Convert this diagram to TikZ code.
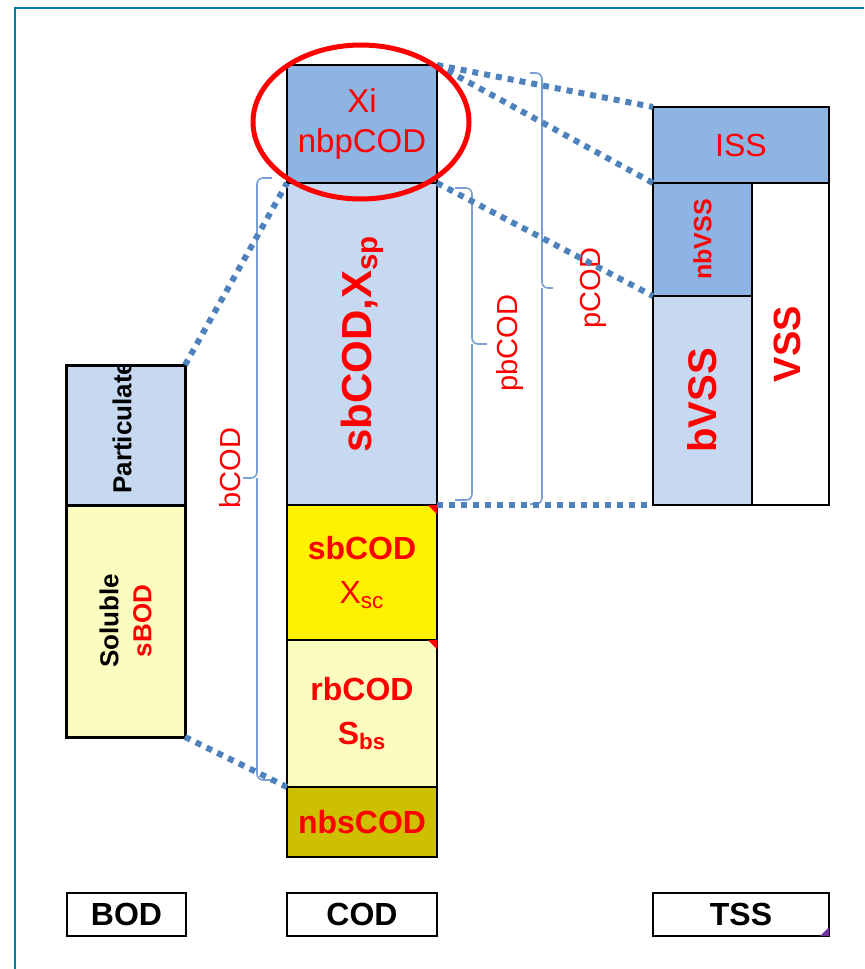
\documentclass[tikz,border=0pt]{standalone}
\usepackage{fontspec}
\setmainfont{Liberation Sans}
\usetikzlibrary{positioning}
\definecolor{frameteal}{RGB}{0,128,160}
\definecolor{xiblue}{RGB}{141,180,226}
\definecolor{paleblue}{RGB}{198,217,240}
\definecolor{paleyellow}{RGB}{250,252,192}
\definecolor{olivefill}{RGB}{204,192,0}
\definecolor{dotblue}{RGB}{79,129,189}
\definecolor{braceblue}{RGB}{120,160,210}
\definecolor{notepurple}{RGB}{112,48,160}

\begin{document}
\begin{tikzpicture}[
  x=0.5pt, y=-0.5pt,
  node distance=0pt,
  cell/.style={
    rectangle, draw=black, line width=1pt, outer sep=0pt, inner sep=0pt,
    align=center, text=red, font=\fontsize{16}{22}\selectfont
  },
  codcell/.style={cell, minimum width=75pt},
  bodcell/.style={cell, line width=1.5pt, minimum width=59.5pt},
  tagbox/.style={cell, text=black, minimum height=21.5pt, font=\fontsize{16}{20}\selectfont\bfseries},
  vtext/.style={rotate=90, text=red, inner sep=0pt, align=center},
  bracelab/.style={vtext, font=\fontsize{14.5}{17}\selectfont},
  brace/.style={braceblue, line width=0.8pt, rounded corners=3pt},
  dotline/.style={dotblue, line width=3pt, dash pattern=on 3pt off 3pt},
  hilite/.style={red, line width=2.5pt}
]
  \useasboundingbox (0,0) rectangle (864,969);
  \draw[frameteal, line width=1pt] (15,969) -- (15,8) -- (864,8);

  % BOD column
  \node[bodcell, fill=paleblue, minimum height=70pt] (part) at (125.5,435) {};
  \node[bodcell, fill=paleyellow, minimum height=116pt, below=of part] (sol) {};
  \begin{scope}
    \clip (part.south west) rectangle (part.north east);
    \node[vtext, text=black, anchor=west, font=\fontsize{13}{16}\selectfont\bfseries] (partlab) at (122,494) {Particulate};
  \end{scope}
  \node[vtext, text=black, font=\fontsize{13}{16.5}\selectfont\bfseries] (sollab) at (sol.center) {Soluble\\\textcolor{red}{sBOD}};

  % COD column
  \node[codcell, fill=xiblue, minimum height=59pt, font=\fontsize{16.5}{20}\selectfont] (xi) at (362,124) {Xi\\nbpCOD};
  \node[codcell, fill=paleblue, minimum height=161pt, below=of xi] (sbcodp) {};
  \node[codcell, fill=yellow, minimum height=67.5pt, below=of sbcodp] (sbcodc) {\textbf{sbCOD}\\X\textsubscript{sc}};
  \node[codcell, fill=paleyellow, minimum height=73.5pt, below=of sbcodc] (rbcod) {\textbf{rbCOD}\\\textbf{S\textsubscript{bs}}};
  \node[codcell, fill=olivefill, minimum height=35pt, below=of rbcod, font=\fontsize{16}{20}\selectfont\bfseries] (nbscod) {nbsCOD};
  \node[vtext, font=\fontsize{21}{24}\selectfont\bfseries] (sbcodplab) at (sbcodp.center) {sbCOD,X\textsubscript{sp}};

  % comment marks
  \fill[red] (sbcodc.north east) -- ++(-9,0) -- ++(9,9) -- cycle;
  \fill[red] (rbcod.north east) -- ++(-9,0) -- ++(9,9) -- cycle;

  % TSS column
  \node[cell, fill=xiblue, minimum width=88pt, minimum height=38pt] (iss) at (741,145) {ISS};
  \node[cell, fill=xiblue, minimum width=49.5pt, minimum height=56.5pt, anchor=north west] (nbvss) at (iss.south west) {};
  \node[cell, fill=paleblue, minimum width=49.5pt, minimum height=104.5pt, below=of nbvss] (bvss) {};
  \node[cell, fill=white, minimum width=38.5pt, minimum height=161pt, anchor=north west] (vss) at (nbvss.north east) {};
  \node[vtext, font=\fontsize{12.5}{15}\selectfont\bfseries] (nbvsslab) at (nbvss.center) {nbVSS};
  \node[vtext, font=\fontsize{20}{24}\selectfont\bfseries] (bvsslab) at (bvss.center) {bVSS};
  \node[vtext, font=\fontsize{19}{23}\selectfont\bfseries] (vsslab) at ([xshift=-1.5pt]vss.center) {VSS};

  % braces
  \draw[brace] (272,178) -| (257,478) -- (243,478);
  \draw[brace] (257,478) |- (277,780);
  \node[bracelab] (bcodlab) at (230,468) {bCOD};
  \draw[brace] (455,188) -| (472,344) -- (487,344);
  \draw[brace] (472,344) |- (455,500);
  \node[bracelab] (pbcodlab) at (510,343) {pbCOD};
  \draw[brace] (530,73) -| (542,288) -- (553,288);
  \draw[brace] (542,288) |- (530,504);
  \node[bracelab] (pcodlab) at (593,288) {pCOD};

  % dotted links
  \draw[dotline] (part.north east) -- (sbcodp.north west);
  \draw[dotline] (sol.south east) -- (nbscod.north west);
  \draw[dotline] (xi.north east) -- (iss.north west);
  \draw[dotline] (xi.north east) -- (nbvss.north west);
  \draw[dotline] (xi.south east) -- (bvss.north west);
  \draw[dotline] (sbcodp.south east) -- (bvss.south west);

  % highlight
  \draw[hilite] (361,122) ellipse [x radius=54pt, y radius=38.5pt];

  % column tags
  \node[tagbox, minimum width=59.5pt] (bodtag) at (126.5,914.5) {BOD};
  \node[tagbox, minimum width=75pt] (codtag) at (362,914.5) {COD};
  \node[tagbox, minimum width=88pt] (tsstag) at (741,914.5) {TSS};
  \fill[notepurple] (tsstag.south east) -- ++(-9,0) -- ++(9,-9) -- cycle;
\end{tikzpicture}
\end{document}
